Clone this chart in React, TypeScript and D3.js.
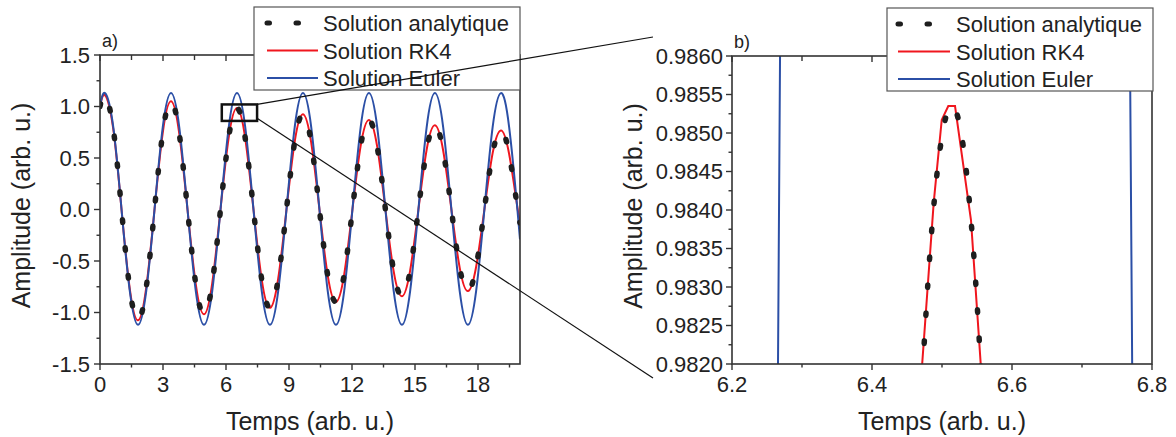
import React from 'react';
import * as d3 from 'd3';

// ---------- data ----------
const times = [0, 0.24, 0.633, 1.025, 1.418, 1.811, 2.203, 2.596, 2.989, 3.382, 3.774, 4.167, 4.56, 4.952, 5.345, 5.738, 6.131, 6.523, 6.916, 7.309, 7.701, 8.094, 8.487, 8.88, 9.272, 9.665, 10.058, 10.45, 10.843, 11.236, 11.629, 12.021, 12.414, 12.807, 13.2, 13.592, 13.985, 14.378, 14.77, 15.163, 15.556, 15.948, 16.341, 16.734, 17.127, 17.519, 17.912, 18.305, 18.697, 19.09, 19.483, 19.876, 20];
const analytic = [1.0, 1.11, 0.78, 0, -0.77, -1.076, -0.756, 0, 0.747, 1.05, 0.737, 0, -0.725, -1.018, -0.714, 0, 0.702, 0.985, 0.691, 0, -0.68, -0.955, -0.67, 0, 0.659, 0.925, 0.649, 0, -0.639, -0.897, -0.629, 0, 0.62, 0.87, 0.61, 0, -0.601, -0.843, -0.591, 0, 0.582, 0.817, 0.573, 0, -0.564, -0.792, -0.556, 0, 0.547, 0.768, 0.539, 0.02, -0.13];
const rk4 = [1.0, 1.11, 0.78, 0, -0.77, -1.076, -0.756, 0, 0.747, 1.05, 0.737, 0, -0.725, -1.018, -0.714, 0, 0.702, 0.985, 0.691, 0, -0.68, -0.955, -0.67, 0, 0.659, 0.925, 0.649, 0, -0.639, -0.897, -0.629, 0, 0.62, 0.87, 0.61, 0, -0.601, -0.843, -0.591, 0, 0.582, 0.817, 0.573, 0, -0.564, -0.792, -0.556, 0, 0.547, 0.768, 0.539, 0.02, -0.13];
const euler = [1.0,
  1.13, 0.8, 0, -0.79, -1.12, -0.79, 0, 0.8,
  1.13, 0.8, 0, -0.79, -1.12, -0.79, 0, 0.8,
  1.13, 0.8, 0, -0.79, -1.12, -0.79, 0, 0.8,
  1.13, 0.8, 0, -0.79, -1.12, -0.79, 0, 0.8,
  1.13, 0.8, 0, -0.79, -1.12, -0.79, 0, 0.8,
  1.13, 0.8, 0, -0.79, -1.12, -0.79, 0, 0.8,
  1.13, 0.8, 0, -0.29];

// zoomed panel b)
const zoomTimes = [6.47, 6.48, 6.49, 6.5, 6.51, 6.52, 6.53, 6.54, 6.55, 6.56];
const zoomAnalytic = [0.98154, 0.98307, 0.98422, 0.98496, 0.98532, 0.98528, 0.98485, 0.98402, 0.9828, 0.98118];
const zoomRk4Times = [6.465, 6.4881, 6.4996, 6.509, 6.5186, 6.5414, 6.56];
const zoomRk4 = [0.98115, 0.98409, 0.98517, 0.98535, 0.98535, 0.98387, 0.98137];
const zoomEulerTimes = [6.26, 6.275, 6.52, 6.765, 6.78];
const zoomEuler = [0.9741, 0.9948, 1.13, 0.9906, 0.9713];

// ticks
const leftXTicks = [0, 3, 6, 9, 12, 15, 18];
const leftXMinor = [1.5, 4.5, 7.5, 10.5, 13.5, 16.5, 19.5];
const leftYTicks = [-1.5, -1.0, -0.5, 0, 0.5, 1.0, 1.5];
const leftYMinor = [-1.25, -0.75, -0.25, 0.25, 0.75, 1.25];
const rightXTicks = [6.2, 6.4, 6.6, 6.8];
const rightXMinor = [6.3, 6.5, 6.7];
const rightYTicks = [0.982, 0.9825, 0.983, 0.9835, 0.984, 0.9845, 0.985, 0.9855, 0.986];
const rightYMinor = [0.98225, 0.98275, 0.98325, 0.98375, 0.98425, 0.98475, 0.98525, 0.98575];

const legendLabels = ['Solution analytique', 'Solution RK4', 'Solution Euler'];
const xTitle = 'Temps (arb. u.)';
const yTitle = 'Amplitude (arb. u.)';

// zoom window marked on panel a)
const zoomBox = { t0: 5.8, t1: 7.48, v0: 0.86, v1: 1.02, vLink: 0.885 };

// ---------- styles ----------
const FONT = 'Liberation Sans, Arial, Helvetica, sans-serif';
const RED = '#f0161e';
const BLUE = '#2b4fa6';
const DOT = '#1e1e1e';
const AXIS = '#333333';
const TEXT = '#222222';
const DASH = '2.6 25.4';

type PanelProps = {
  id: string;
  box: { l: number; r: number; t: number; b: number };
  xDomain: [number, number];
  yDomain: [number, number];
  xTicks: number[];
  xMinor: number[];
  yTicks: number[];
  yMinor: number[];
  xFmt: (v: number) => string;
  yFmt: (v: number) => string;
  yTitleX: number;
  yLabelGap: number;
  label: string;
  children: (x: d3.ScaleLinear<number, number>, y: d3.ScaleLinear<number, number>) => React.ReactNode;
};

function Panel(p: PanelProps) {
  const { box } = p;
  const x = d3.scaleLinear().domain(p.xDomain).range([box.l, box.r]);
  const y = d3.scaleLinear().domain(p.yDomain).range([box.b, box.t]);
  const midY = (box.t + box.b) / 2 - 4;
  const midX = (box.l + box.r) / 2;
  return (
    <g>
      <defs>
        <clipPath id={p.id}>
          <rect x={box.l} y={box.t} width={box.r - box.l} height={box.b - box.t} />
        </clipPath>
      </defs>
      <g clipPath={`url(#${p.id})`}>{p.children(x, y)}</g>
      <rect x={box.l} y={box.t} width={box.r - box.l} height={box.b - box.t} fill="none" stroke={AXIS} strokeWidth={1.6} />
      {p.xTicks.map((v) => (
        <line key={'bx' + v} x1={x(v)} x2={x(v)} y1={box.b} y2={box.b + 6} stroke={AXIS} strokeWidth={1.4} />
      ))}
      {p.xMinor.map((v) => (
        <line key={'bxm' + v} x1={x(v)} x2={x(v)} y1={box.b} y2={box.b + 3.5} stroke={AXIS} strokeWidth={1.4} />
      ))}
      {p.xTicks.map((v) => (
        <line key={'tx' + v} x1={x(v)} x2={x(v)} y1={box.t} y2={box.t + 6} stroke={AXIS} strokeWidth={1.4} />
      ))}
      {p.xMinor.map((v) => (
        <line key={'txm' + v} x1={x(v)} x2={x(v)} y1={box.t} y2={box.t + 5} stroke={AXIS} strokeWidth={1.4} />
      ))}
      {p.yTicks.map((v) => (
        <line key={'ly' + v} x1={box.l - 6} x2={box.l} y1={y(v)} y2={y(v)} stroke={AXIS} strokeWidth={1.4} />
      ))}
      {p.yMinor.map((v) => (
        <line key={'lym' + v} x1={box.l - 3.5} x2={box.l} y1={y(v)} y2={y(v)} stroke={AXIS} strokeWidth={1.4} />
      ))}
      {p.xTicks.map((v) => (
        <text key={'bxl' + v} x={x(v)} y={box.b + 28} textAnchor="middle" fontSize={22} fill={TEXT} fontFamily={FONT}>
          {p.xFmt(v)}
        </text>
      ))}
      {p.yTicks.map((v) => (
        <text key={'lyl' + v} x={box.l - p.yLabelGap} y={y(v)} dy="0.36em" textAnchor="end" fontSize={22} fill={TEXT} fontFamily={FONT}>
          {p.yFmt(v)}
        </text>
      ))}
      <text x={midX} y={box.b + 66} textAnchor="middle" fontSize={25} fill={TEXT} fontFamily={FONT}>
        {xTitle}
      </text>
      <text transform={`translate(${p.yTitleX},${midY}) rotate(-90)`} textAnchor="middle" fontSize={25} fill={TEXT} fontFamily={FONT}>
        {yTitle}
      </text>
      <text x={box.l + 2} y={box.t - 8} fontSize={18} fill={TEXT} fontFamily={FONT}>
        {p.label}
      </text>
    </g>
  );
}

function Legend({ x, y, w, h, l0, l1, tx }: { x: number; y: number; w: number; h: number; l0: number; l1: number; tx: number }) {
  const rows = [16, 43.5, 71];
  const styles = [
    { stroke: DOT, width: 5, dash: '2.5 26.5', cap: 'round' as const },
    { stroke: RED, width: 2, dash: undefined, cap: 'butt' as const },
    { stroke: BLUE, width: 2, dash: undefined, cap: 'butt' as const },
  ];
  return (
    <g>
      <rect x={x} y={y} width={w} height={h} fill="#ffffff" stroke="#555" strokeWidth={1.2} />
      {legendLabels.map((lab, i) => (
        <g key={lab}>
          <line
            x1={l0}
            x2={l1}
            y1={y + rows[i]}
            y2={y + rows[i]}
            stroke={styles[i].stroke}
            strokeWidth={styles[i].width}
            strokeDasharray={styles[i].dash}
            strokeLinecap={styles[i].cap}
          />
          <text x={tx} y={y + rows[i] + 8} fontSize={22} fill={TEXT} fontFamily={FONT}>
            {lab}
          </text>
        </g>
      ))}
    </g>
  );
}

export default function App() {
  const leftBox = { l: 100, r: 520, t: 55, b: 364 };
  const rightBox = { l: 732, r: 1152, t: 56, b: 364 };

  const mainSeries = times.map((t, i) => ({ t, a: analytic[i], r: rk4[i], e: euler[i] }));
  const zoomA = zoomTimes.map((t, i) => [t, zoomAnalytic[i]] as [number, number]);
  const zoomR = zoomRk4Times.map((t, i) => [t, zoomRk4[i]] as [number, number]);
  const zoomE = zoomEulerTimes.map((t, i) => [t, zoomEuler[i]] as [number, number]);

  const lx = d3.scaleLinear().domain([0, 20]).range([leftBox.l, leftBox.r]);
  const ly = d3.scaleLinear().domain([-1.5, 1.5]).range([leftBox.b, leftBox.t]);

  return (
    <svg width={1176} height={437} style={{ position: 'absolute', left: 0, top: 0, background: '#fff' }}>
      <rect x={0} y={0} width={1176} height={437} fill="#fff" />
      <Panel
        id="clipA"
        box={leftBox}
        xDomain={[0, 20]}
        yDomain={[-1.5, 1.5]}
        xTicks={leftXTicks}
        xMinor={leftXMinor}
        yTicks={leftYTicks}
        yMinor={leftYMinor}
        xFmt={(v) => String(v)}
        yFmt={(v) => v.toFixed(1)}
        yTitleX={30}
        yLabelGap={10}
        label="a)"
      >
        {(x, y) => {
          const gen = (key: 'a' | 'r' | 'e') =>
            d3
              .line<{ t: number; a: number; r: number; e: number }>()
              .x((d) => x(d.t))
              .y((d) => y(d[key]))
              .curve(d3.curveNatural)(mainSeries) || '';
          return (
            <g>
              <path d={gen('r')} fill="none" stroke={RED} strokeWidth={2} />
              <path d={gen('e')} fill="none" stroke={BLUE} strokeWidth={2} />
              <path d={gen('a')} fill="none" stroke={DOT} strokeWidth={5.5} strokeDasharray={DASH} strokeLinecap="round" />
            </g>
          );
        }}
      </Panel>
      <Panel
        id="clipB"
        box={rightBox}
        xDomain={[6.2, 6.8]}
        yDomain={[0.982, 0.986]}
        xTicks={rightXTicks}
        xMinor={rightXMinor}
        yTicks={rightYTicks}
        yMinor={rightYMinor}
        xFmt={(v) => v.toFixed(1)}
        yFmt={(v) => v.toFixed(4)}
        yTitleX={642}
        yLabelGap={9}
        label="b)"
      >
        {(x, y) => {
          const lin = d3
            .line<[number, number]>()
            .x((d) => x(d[0]))
            .y((d) => y(d[1]));
          const smooth = d3
            .line<[number, number]>()
            .x((d) => x(d[0]))
            .y((d) => y(d[1]))
            .curve(d3.curveNatural);
          return (
            <g>
              <path d={lin(zoomE) || ''} fill="none" stroke={BLUE} strokeWidth={2} />
              <path d={lin(zoomR) || ''} fill="none" stroke={RED} strokeWidth={2} />
              <path d={smooth(zoomA) || ''} fill="none" stroke={DOT} strokeWidth={5.5} strokeDasharray={DASH} strokeLinecap="round" />
            </g>
          );
        }}
      </Panel>

      <Legend x={254} y={7} w={266} h={83} l0={267} l1={318} tx={323} />
      <Legend x={887} y={8} w={266} h={83} l0={898} l1={950} tx={956} />

      <rect
        x={lx(zoomBox.t0)}
        y={ly(zoomBox.v1)}
        width={lx(zoomBox.t1) - lx(zoomBox.t0)}
        height={ly(zoomBox.v0) - ly(zoomBox.v1)}
        fill="none"
        stroke="#111"
        strokeWidth={2.5}
      />
      <line x1={lx(zoomBox.t1)} y1={ly(zoomBox.v1)} x2={rightBox.l - 79} y2={rightBox.t - 19} stroke="#111" strokeWidth={1.2} />
      <line x1={lx(zoomBox.t1)} y1={ly(zoomBox.vLink)} x2={rightBox.l - 79} y2={rightBox.b + 14} stroke="#111" strokeWidth={1.2} />
    </svg>
  );
}
